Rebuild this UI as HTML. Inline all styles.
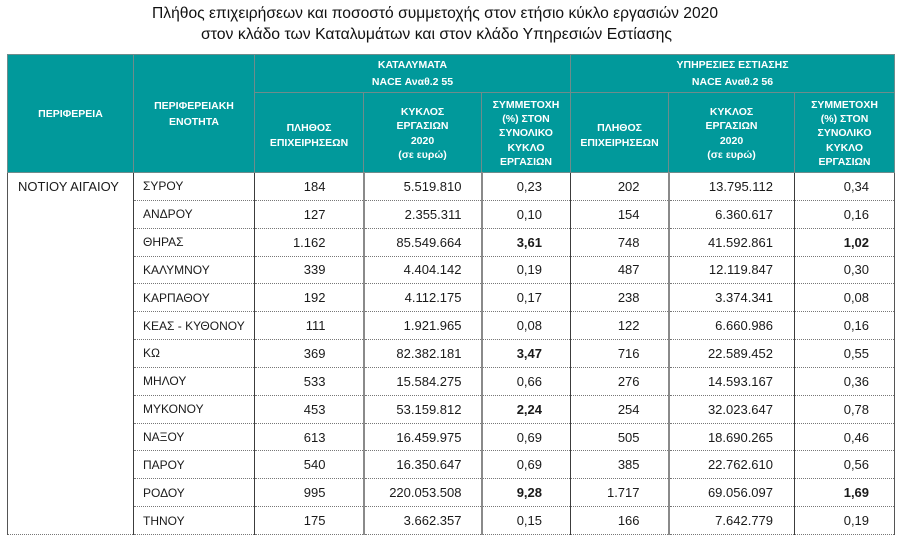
<!DOCTYPE html>
<html><head><meta charset="utf-8">
<style>
html,body{margin:0;padding:0;background:#fff;}
body{width:905px;height:545px;position:relative;overflow:hidden;font-family:"Liberation Sans",sans-serif;}
svg.t{position:absolute;left:0;top:0;}
table{position:absolute;left:7px;top:54px;border-collapse:collapse;table-layout:fixed;width:887px;}
th{background:#01999b;color:#fff;font-family:"Liberation Sans",sans-serif;font-size:10.5px;font-weight:700;line-height:14.3px;border:1px solid #6e8c8c;padding:0;text-align:center;vertical-align:middle;}
th.h1{line-height:16px;}
td{padding:0;font-size:13px;color:#1a1a1a;height:26.85px;vertical-align:middle;border-top:1px dotted #777;border-bottom:1px dotted #777;white-space:nowrap;}
td.r{border-left:1px solid #555;padding-left:10px;vertical-align:top;padding-top:6px;border-bottom:1px dotted #777;}
td.a{border-left:1px solid #3c3c3c;padding-left:9px;font-size:12px;}
td.b{border-left:1px solid #3c3c3c;text-align:right;padding-right:37px;}
td.c{border-left:2px solid #8a8a8a;text-align:right;padding-right:19px;}
td.d{border-left:2px solid #8a8a8a;text-align:right;padding-right:28px;}
td.e{border-left:1px solid #3c3c3c;text-align:right;padding-right:28px;}
td.f{border-left:2px solid #8a8a8a;text-align:right;padding-right:21px;}
td.g{border-left:1px solid #3c3c3c;border-right:1px solid #555;text-align:right;padding-right:25px;}
tr.first td{border-top:1px solid #333;}
b{font-weight:bold;}
</style></head><body>
<svg class="t" width="905" height="50">
<text x="152" y="18" font-family="Liberation Sans, sans-serif" font-size="15.5" fill="#111" textLength="566" lengthAdjust="spacingAndGlyphs">Πλήθος επιχειρήσεων και ποσοστό συμμετοχής στον ετήσιο κύκλο εργασιών 2020</text>
<text x="201" y="39" font-family="Liberation Sans, sans-serif" font-size="15.5" fill="#111" textLength="471" lengthAdjust="spacingAndGlyphs">στον κλάδο των Καταλυμάτων  και στον κλάδο Υπηρεσιών Εστίασης</text>
</svg>
<table>
<colgroup><col style="width:126px"><col style="width:121px"><col style="width:109px"><col style="width:118px"><col style="width:89px"><col style="width:98px"><col style="width:126px"><col style="width:100px"></colgroup>
<thead>
<tr style="height:38px"><th rowspan="2" class="h1">ΠΕΡΙΦΕΡΕΙΑ</th><th rowspan="2" class="h1">ΠΕΡΙΦΕΡΕΙΑΚΗ<br>ΕΝΟΤΗΤΑ</th><th colspan="3" style="line-height:17px">ΚΑΤΑΛΥΜΑΤΑ<br>NACE Αναθ.2 55</th><th colspan="3" style="line-height:17px">ΥΠΗΡΕΣΙΕΣ ΕΣΤΙΑΣΗΣ<br>NACE Αναθ.2 56</th></tr>
<tr style="height:80px"><th style="padding-top:6px">ΠΛΗΘΟΣ<br>ΕΠΙΧΕΙΡΗΣΕΩΝ</th><th style="padding-top:2px">ΚΥΚΛΟΣ<br>ΕΡΓΑΣΙΩΝ<br>2020<br>(σε ευρώ)</th><th style="padding-top:2px">ΣΥΜΜΕΤΟΧΗ<br>(%) ΣΤΟΝ<br>ΣΥΝΟΛΙΚΟ<br>ΚΥΚΛΟ<br>ΕΡΓΑΣΙΩΝ</th><th style="padding-top:6px">ΠΛΗΘΟΣ<br>ΕΠΙΧΕΙΡΗΣΕΩΝ</th><th style="padding-top:2px">ΚΥΚΛΟΣ<br>ΕΡΓΑΣΙΩΝ<br>2020<br>(σε ευρώ)</th><th style="padding-top:2px">ΣΥΜΜΕΤΟΧΗ<br>(%) ΣΤΟΝ<br>ΣΥΝΟΛΙΚΟ<br>ΚΥΚΛΟ<br>ΕΡΓΑΣΙΩΝ</th></tr>
</thead>
<tbody>
<tr class="first"><td class="r" rowspan="13">ΝΟΤΙΟΥ ΑΙΓΑΙΟΥ</td><td class="a">ΣΥΡΟΥ</td><td class="b">184</td><td class="c">5.519.810</td><td class="d">0,23</td><td class="e">202</td><td class="f">13.795.112</td><td class="g">0,34</td></tr>
<tr><td class="a">ΑΝΔΡΟΥ</td><td class="b">127</td><td class="c">2.355.311</td><td class="d">0,10</td><td class="e">154</td><td class="f">6.360.617</td><td class="g">0,16</td></tr>
<tr><td class="a">ΘΗΡΑΣ</td><td class="b">1.162</td><td class="c">85.549.664</td><td class="d"><b>3,61</b></td><td class="e">748</td><td class="f">41.592.861</td><td class="g"><b>1,02</b></td></tr>
<tr><td class="a">ΚΑΛΥΜΝΟΥ</td><td class="b">339</td><td class="c">4.404.142</td><td class="d">0,19</td><td class="e">487</td><td class="f">12.119.847</td><td class="g">0,30</td></tr>
<tr><td class="a">ΚΑΡΠΑΘΟΥ</td><td class="b">192</td><td class="c">4.112.175</td><td class="d">0,17</td><td class="e">238</td><td class="f">3.374.341</td><td class="g">0,08</td></tr>
<tr><td class="a">ΚΕΑΣ - ΚΥΘΟΝΟΥ</td><td class="b">111</td><td class="c">1.921.965</td><td class="d">0,08</td><td class="e">122</td><td class="f">6.660.986</td><td class="g">0,16</td></tr>
<tr><td class="a">ΚΩ</td><td class="b">369</td><td class="c">82.382.181</td><td class="d"><b>3,47</b></td><td class="e">716</td><td class="f">22.589.452</td><td class="g">0,55</td></tr>
<tr><td class="a">ΜΗΛΟΥ</td><td class="b">533</td><td class="c">15.584.275</td><td class="d">0,66</td><td class="e">276</td><td class="f">14.593.167</td><td class="g">0,36</td></tr>
<tr><td class="a">ΜΥΚΟΝΟΥ</td><td class="b">453</td><td class="c">53.159.812</td><td class="d"><b>2,24</b></td><td class="e">254</td><td class="f">32.023.647</td><td class="g">0,78</td></tr>
<tr><td class="a">ΝΑΞΟΥ</td><td class="b">613</td><td class="c">16.459.975</td><td class="d">0,69</td><td class="e">505</td><td class="f">18.690.265</td><td class="g">0,46</td></tr>
<tr><td class="a">ΠΑΡΟΥ</td><td class="b">540</td><td class="c">16.350.647</td><td class="d">0,69</td><td class="e">385</td><td class="f">22.762.610</td><td class="g">0,56</td></tr>
<tr><td class="a">ΡΟΔΟΥ</td><td class="b">995</td><td class="c">220.053.508</td><td class="d"><b>9,28</b></td><td class="e">1.717</td><td class="f">69.056.097</td><td class="g"><b>1,69</b></td></tr>
<tr><td class="a">ΤΗΝΟΥ</td><td class="b">175</td><td class="c">3.662.357</td><td class="d">0,15</td><td class="e">166</td><td class="f">7.642.779</td><td class="g">0,19</td></tr>
</tbody>
</table>
</body></html>
